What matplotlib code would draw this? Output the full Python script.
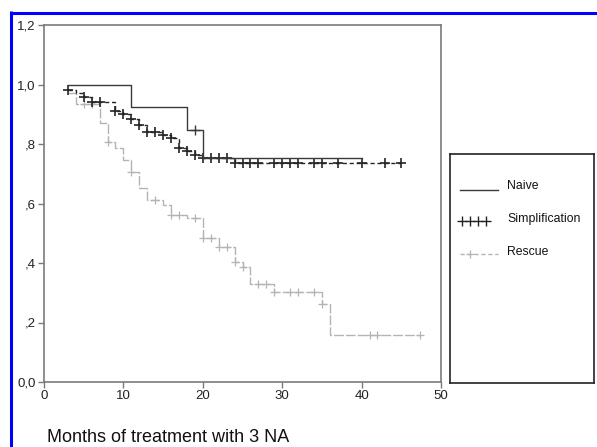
import numpy as np
import matplotlib
matplotlib.use("Agg")
import matplotlib.pyplot as plt
from matplotlib.lines import Line2D

plt.rcParams['font.family'] = ['Liberation Sans', 'DejaVu Sans']

# ---- data ----
naive_t = [3, 11, 18, 20, 40]
naive_s = [1.0, 0.923, 0.846, 0.752, 0.752]
naive_cens = [19]

simp_t = [3, 4, 5, 6, 9, 10, 11, 12, 13, 15, 16, 17, 18, 19, 20, 24, 45]
simp_s = [0.981, 0.970, 0.959, 0.942, 0.910, 0.900, 0.883, 0.864, 0.841,
          0.830, 0.819, 0.785, 0.776, 0.763, 0.752, 0.735, 0.735]
simp_cens = [3, 5, 6, 7, 9, 10, 11, 12, 13, 14, 15, 16, 17, 18, 19, 20, 21,
             22, 23, 24, 25, 26, 27, 29, 30, 31, 32, 34, 35, 37, 40, 43, 45]

resc_t = [3, 4, 7, 8, 9, 10, 11, 12, 13, 15, 16, 18, 20, 22, 24, 25, 26,
          29, 35, 36, 47.4]
resc_s = [0.97, 0.935, 0.87, 0.808, 0.787, 0.746, 0.707, 0.651, 0.612,
          0.595, 0.561, 0.55, 0.483, 0.455, 0.404, 0.387, 0.329, 0.304,
          0.262, 0.158, 0.158]
resc_cens = [5, 6, 8, 11, 14, 16, 17, 19, 20, 21, 22, 23, 24, 25, 27, 28,
             29, 31, 32, 34, 35, 41, 42, 47.4]

yticks = [0.0, 0.2, 0.4, 0.6, 0.8, 1.0, 1.2]
ytick_labels = ['0,0', ',2', ',4', ',6', ',8', '1,0', '1,2']
xticks = [0, 10, 20, 30, 40, 50]
legend_labels = ['Naive', 'Simplification', 'Rescue']
xlabel = 'Months of treatment with 3 NA'

W, H = 597, 447
fig = plt.figure(figsize=(W / 100, H / 100), dpi=100)
ax = fig.add_axes([44 / W, 1 - 382 / H, (441 - 44) / W, (382 - 25) / H])


def surv_at(ts, ss, c):
    ts = np.asarray(ts, float)
    ss = np.asarray(ss, float)
    idx = np.searchsorted(ts, np.asarray(c, float), side='right') - 1
    idx = np.clip(idx, 0, len(ss) - 1)
    return ss[idx]


# rescue
rc = '#b4b4b4'
ax.step(resc_t, resc_s, where='post', color=rc, lw=1.0,
        linestyle=(0, (7, 1.5)))
ax.plot(resc_cens, surv_at(resc_t, resc_s, resc_cens), '+', color=rc,
        ms=6, mew=0.9)

# simplification
sc = '#252525'
ax.step(simp_t, simp_s, where='post', color=sc, lw=1.0,
        linestyle=(0, (3, 2)))
ax.plot(simp_cens, surv_at(simp_t, simp_s, simp_cens), '+', color=sc,
        ms=7, mew=1.2)

# naive
nc = '#3a3a3a'
ax.step(naive_t, naive_s, where='post', color=nc, lw=1.0)
ax.plot(naive_cens, surv_at(naive_t, naive_s, naive_cens), '+', color=nc,
        ms=7, mew=1.0)

ax.set_xlim(0, 50)
ax.set_ylim(0, 1.2)
ax.set_xticks(xticks)
ax.set_xticklabels([str(x) for x in xticks], fontsize=9.5)
ax.set_yticks(yticks)
ax.set_yticklabels(ytick_labels, fontsize=9.5)
for s in ax.spines.values():
    s.set_color('#7a7a7a')
    s.set_linewidth(1.2)
ax.tick_params(direction='out', length=4, width=1, color='#7a7a7a',
               labelcolor='#222222', pad=2)

fig.text(47 / W, 1 - 437 / H, xlabel, fontsize=13, color='#111111',
         va='center', ha='left')

# legend box
lax = fig.add_axes([450 / W, 1 - 383 / H, (594 - 450) / W, (383 - 154) / H])
lax.set_xlim(0, 144)
lax.set_ylim(229, 0)
lax.set_xticks([])
lax.set_yticks([])
for s in lax.spines.values():
    s.set_color('#222222')
    s.set_linewidth(1.2)

rows = [34, 67, 100]
lax.plot([10, 48], [rows[0] + 2, rows[0] + 2], color=nc, lw=1.0)
lax.plot([12, 20, 28, 36], [rows[1]] * 4, '+', color=sc, ms=7, mew=1.0)
lax.plot([10, 48], [rows[2], rows[2]], color=rc, lw=1.0,
         linestyle=(0, (3, 2)))
lax.plot([20], [rows[2]], '+', color=rc, ms=6, mew=0.9)
for r, lab in zip(rows, legend_labels):
    lax.text(57, r - 2, lab, fontsize=8.8, va='center', ha='left',
             color='#111111')

# blue border (top and left)
fig.add_artist(Line2D([10 / W, 1], [1 - 12.5 / H, 1 - 12.5 / H],
                      color='#0000ff', lw=2.2, solid_capstyle='butt',
                      transform=fig.transFigure))
fig.add_artist(Line2D([11 / W, 11 / W], [0, 1 - 11 / H],
                      color='#0000ff', lw=2.2, solid_capstyle='butt',
                      transform=fig.transFigure))

fig.savefig('out.png', dpi=100)
